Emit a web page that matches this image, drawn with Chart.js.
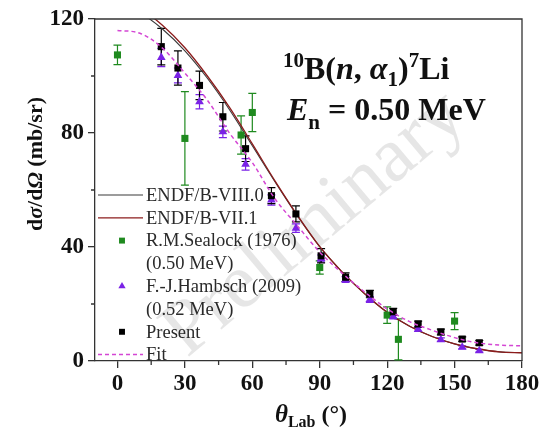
<!DOCTYPE html>
<html>
<head>
<meta charset="utf-8">
<script src="https://cdn.jsdelivr.net/npm/chart.js@4.4.1/dist/chart.umd.min.js"></script>
<style>
  html, body { margin: 0; padding: 0; background: #fff; }
</style>
</head>
<body>
<canvas id="grafico" width="546" height="430"></canvas>
<script>
// R.M.Sealock (1976), 0.50 MeV
const anguloSealock = [0, 30, 55, 60, 90, 120, 125, 150];
const valorSealock = [107.4, 78.1, 79.3, 87.2, 32.8, 16.1, 7.6, 14.0];
const erroSealock = [3.4, 16.4, 6.7, 6.7, 2.3, 2.9, 7.2, 3.0];

// F.-J.Hambsch (2009), 0.52 MeV
const anguloHambsch = [19.5, 26.9, 36.5, 46.9, 57, 68.5, 79.4, 90.6, 101.5, 112.3, 122.7, 133.8, 143.9, 153.4, 161];
const valorHambsch = [106.5, 100.2, 91.0, 80.4, 69.0, 56.5, 46.6, 36.0, 28.6, 21.6, 15.6, 11.1, 7.5, 4.8, 3.6];
const erroHambsch = [3.2, 2.6, 2.5, 2.0, 2.0, 1.8, 1.5, 1.2, 1.0, 1.0, 0.8, 0.7, 0.6, 0.5, 0.5];

// Present
const anguloPresent = [19.5, 26.9, 36.5, 46.9, 57, 68.5, 79.4, 90.6, 101.5, 112.3, 122.7, 133.8, 143.9, 153.4, 161];
const valorPresent = [110.3, 102.8, 96.7, 85.7, 74.5, 58.0, 51.6, 36.9, 29.4, 23.5, 17.3, 13.0, 10.2, 7.7, 6.4];
const erroPresent = [6.4, 6.0, 5.0, 5.0, 4.5, 2.8, 2.8, 2.5, 1.5, 1.3, 1.2, 1.0, 1.0, 0.8, 0.8];

// curvas (avaliações e ajuste)
const anguloCurva = [0, 10, 20, 30, 40, 50, 60, 70, 80, 90, 100, 110, 120, 130, 140, 150, 160, 170, 180];
const endfVIII = [125.5, 122.2, 116.5, 108.8, 99.2, 88.0, 75.5, 63.0, 51.0, 40.1, 31.2, 23.6, 17.1, 12.2, 8.6, 6.0, 4.3, 3.2, 2.9];
const endfVII = [126.5, 123.7, 117.8, 109.9, 100.0, 88.8, 76.2, 63.3, 51.2, 40.1, 31.2, 23.6, 17.1, 12.2, 8.6, 6.0, 4.3, 3.2, 2.9];
const ajuste = [116.0, 115.0, 109.8, 101.0, 91.5, 79.8, 69.6, 57.0, 47.5, 38.2, 30.8, 24.2, 18.3, 13.8, 10.8, 8.2, 6.4, 5.6, 5.3];

const ticksX = [0, 30, 60, 90, 120, 150, 180];
const ticksY = [0, 40, 80, 120];

const serif = "'Liberation Serif', 'Times New Roman', serif";
const corEixo = '#333';
const verde = '#1f8a1f';
const roxo = '#7a22e6';
const magenta = '#d446d4';
const corVIII = '#3a3a3a';
const corVII = '#8c1c1c';

function pontos(xs, ys) {
    return xs.map((x, i) => ({ x: x, y: ys[i] }));
}

// desenha uma sequência de pedaços de texto com fontes diferentes
function larguraTexto(ctx, partes) {
    let w = 0;
    partes.forEach(p => { ctx.font = p.f; w += ctx.measureText(p.t).width; });
    return w;
}
function desenhaTexto(ctx, x, y, partes) {
    partes.forEach(p => {
        ctx.font = p.f;
        ctx.fillText(p.t, x, y + (p.dy || 0));
        x += ctx.measureText(p.t).width;
    });
}

// marca d'água "Preliminary"
const marcaDagua = {
    id: 'marcaDagua',
    beforeDatasetsDraw(chart) {
        const ctx = chart.ctx;
        ctx.save();
        ctx.translate(328, 240);
        ctx.rotate(-40 * Math.PI / 180);
        ctx.font = '78px ' + serif;
        ctx.fillStyle = 'rgba(150,150,150,0.24)';
        ctx.textAlign = 'center';
        ctx.fillText('Preliminary', 0, 0);
        ctx.restore();
    }
};

// barras de erro a partir dos arrays de erro
const barrasErro = {
    id: 'barrasErro',
    beforeDatasetsDraw(chart) {
        const ctx = chart.ctx;
        const xs = chart.scales.x, ys = chart.scales.y;
        chart.data.datasets.slice().reverse().forEach(ds => {
            if (!ds.erros) return;
            ctx.save();
            ctx.strokeStyle = ds.borderColor;
            ctx.lineWidth = 1.2;
            ds.data.forEach((p, i) => {
                const px = xs.getPixelForValue(p.x);
                const topo = ys.getPixelForValue(p.y + ds.erros[i]);
                const base = ys.getPixelForValue(p.y - ds.erros[i]);
                ctx.beginPath();
                ctx.moveTo(px, topo); ctx.lineTo(px, base);
                ctx.moveTo(px - 4, topo); ctx.lineTo(px + 4, topo);
                ctx.moveTo(px - 4, base); ctx.lineTo(px + 4, base);
                ctx.stroke();
            });
            ctx.restore();
        });
    }
};

// moldura, ticks menores, títulos, legenda e anotação
const decoracao = {
    id: 'decoracao',
    afterDraw(chart) {
        const ctx = chart.ctx;
        const area = chart.chartArea;
        const xs = chart.scales.x, ys = chart.scales.y;
        ctx.save();
        ctx.strokeStyle = corEixo;
        ctx.lineWidth = 1.3;
        ctx.beginPath();
        ctx.moveTo(area.left, area.top); ctx.lineTo(area.right, area.top);
        ctx.lineTo(area.right, area.bottom);
        ctx.stroke();

        // ticks menores
        ctx.beginPath();
        for (let i = 0; i < ticksX.length - 1; i++) {
            const px = xs.getPixelForValue((ticksX[i] + ticksX[i + 1]) / 2);
            ctx.moveTo(px, area.bottom); ctx.lineTo(px, area.bottom + 4);
        }
        for (let i = 0; i < ticksY.length - 1; i++) {
            const py = ys.getPixelForValue((ticksY[i] + ticksY[i + 1]) / 2);
            ctx.moveTo(area.left, py); ctx.lineTo(area.left - 4, py);
        }
        ctx.stroke();

        ctx.fillStyle = '#111';
        ctx.textBaseline = 'alphabetic';
        ctx.textAlign = 'left';

        // título do eixo x
        const tituloX = [
            { t: 'θ', f: 'italic bold 25px ' + serif },
            { t: 'Lab', f: 'bold 16px ' + serif, dy: 5 },
            { t: ' (°)', f: 'bold 24px ' + serif }
        ];
        const wx = larguraTexto(ctx, tituloX);
        desenhaTexto(ctx, 311 - wx / 2, 422, tituloX);

        // título do eixo y
        const tituloY = [
            { t: 'd', f: 'bold 22px ' + serif },
            { t: 'σ', f: 'italic bold 22px ' + serif },
            { t: '/d', f: 'bold 22px ' + serif },
            { t: 'Ω', f: 'italic bold 22px ' + serif },
            { t: ' (mb/sr)', f: 'bold 22px ' + serif }
        ];
        ctx.save();
        ctx.translate(42, 164);
        ctx.rotate(-Math.PI / 2);
        const wy = larguraTexto(ctx, tituloY);
        desenhaTexto(ctx, -wy / 2, 0, tituloY);
        ctx.restore();

        // anotação da reação
        desenhaTexto(ctx, 283, 79, [
            { t: '10', f: 'bold 21px ' + serif, dy: -12 },
            { t: 'B(', f: 'bold 32px ' + serif },
            { t: 'n', f: 'italic bold 32px ' + serif },
            { t: ', ', f: 'bold 32px ' + serif },
            { t: 'α', f: 'italic bold 32px ' + serif },
            { t: '1', f: 'bold 21px ' + serif, dy: 7 },
            { t: ')', f: 'bold 32px ' + serif },
            { t: '7', f: 'bold 21px ' + serif, dy: -12 },
            { t: 'Li', f: 'bold 32px ' + serif }
        ]);
        desenhaTexto(ctx, 287, 120, [
            { t: 'E', f: 'italic bold 32px ' + serif },
            { t: 'n', f: 'bold 21px ' + serif, dy: 9 },
            { t: ' = 0.50 MeV', f: 'bold 32px ' + serif }
        ]);

        // legenda
        let y = 195;
        const passo = 22.8;
        ordemLegenda.forEach(label => {
            const ds = chart.data.datasets.find(d => d.label === label);
            ctx.save();
            ctx.strokeStyle = ds.borderColor;
            ctx.fillStyle = ds.backgroundColor || ds.borderColor;
            if (ds.showLine) {
                ctx.lineWidth = ds.borderWidth;
                ctx.setLineDash(ds.borderDash || []);
                ctx.beginPath();
                ctx.moveTo(98, y); ctx.lineTo(143, y);
                ctx.stroke();
            } else {
                Chart.helpers.drawPoint(ctx, { pointStyle: ds.pointStyle, rotation: 0, radius: 4.2, borderWidth: 0 }, 122, y);
            }
            ctx.restore();
            ctx.fillStyle = '#2a2a2a';
            ctx.textBaseline = 'middle';
            ctx.font = '18.5px ' + serif;
            ctx.fillText(label, 146, y + 1);
            y += passo;
            if (segundaLinha[label]) {
                ctx.fillText(segundaLinha[label], 146, y + 1);
                y += passo;
            }
        });
        ctx.restore();
    }
};

const ordemLegenda = ['ENDF/B-VIII.0', 'ENDF/B-VII.1', 'R.M.Sealock (1976)', 'F.-J.Hambsch (2009)', 'Present', 'Fit'];
const segundaLinha = { 'R.M.Sealock (1976)': '(0.50 MeV)', 'F.-J.Hambsch (2009)': '(0.52 MeV)' };

const fonteTicks = { family: serif, size: 23, weight: 'bold' };

const ctx = document.getElementById('grafico').getContext('2d');
const grafico = new Chart(ctx, {
    type: 'scatter',
    data: {
        datasets: [
            {
                label: 'Fit', data: pontos(anguloCurva, ajuste), showLine: true,
                borderColor: magenta, borderDash: [4, 3], borderWidth: 1.5,
                pointRadius: 0, cubicInterpolationMode: 'monotone', order: 0
            },
            {
                label: 'Present', data: pontos(anguloPresent, valorPresent), erros: erroPresent,
                backgroundColor: '#000', borderColor: '#000', pointStyle: 'rect',
                pointRadius: 5, borderWidth: 0, order: 1
            },
            {
                label: 'F.-J.Hambsch (2009)', data: pontos(anguloHambsch, valorHambsch), erros: erroHambsch,
                backgroundColor: roxo, borderColor: roxo, pointStyle: 'triangle',
                pointRadius: 5, borderWidth: 0, order: 2
            },
            {
                label: 'R.M.Sealock (1976)', data: pontos(anguloSealock, valorSealock), erros: erroSealock,
                backgroundColor: verde, borderColor: verde, pointStyle: 'rect',
                pointRadius: 5, borderWidth: 0, order: 3
            },
            {
                label: 'ENDF/B-VII.1', data: pontos(anguloCurva, endfVII), showLine: true,
                borderColor: corVII, borderWidth: 1.3, pointRadius: 0,
                cubicInterpolationMode: 'monotone', order: 4
            },
            {
                label: 'ENDF/B-VIII.0', data: pontos(anguloCurva, endfVIII), showLine: true,
                borderColor: corVIII, borderWidth: 1.1, pointRadius: 0,
                cubicInterpolationMode: 'monotone', order: 5
            }
        ]
    },
    options: {
        responsive: false,
        animation: false,
        layout: { padding: { top: 19, right: 24, left: 0, bottom: 0 } },
        plugins: { legend: { display: false }, tooltip: { enabled: false } },
        scales: {
            x: {
                type: 'linear', min: -10, max: 180,
                afterBuildTicks: s => { s.ticks = ticksX.map(v => ({ value: v })); },
                ticks: { font: fonteTicks, color: '#111', padding: 2, maxRotation: 0, autoSkip: false },
                grid: { drawOnChartArea: false, tickLength: 7, color: corEixo, lineWidth: 1.3 },
                border: { color: corEixo, width: 1.3 },
                afterFit: s => { s.height = 69; }
            },
            y: {
                min: 0, max: 120,
                afterBuildTicks: s => { s.ticks = ticksY.map(v => ({ value: v })); },
                ticks: { font: fonteTicks, color: '#111', padding: 4 },
                grid: { drawOnChartArea: false, tickLength: 7, color: corEixo, lineWidth: 1.3 },
                border: { color: corEixo, width: 1.3 },
                afterFit: s => { s.width = 95; }
            }
        }
    },
    plugins: [marcaDagua, barrasErro, decoracao]
});
</script>
</body>
</html>
